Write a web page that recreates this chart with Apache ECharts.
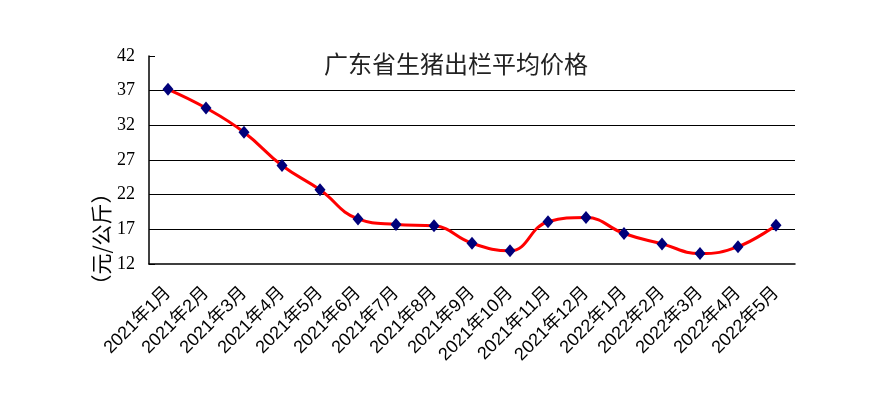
<!DOCTYPE html>
<html>
<head>
<meta charset="utf-8">
<script src="https://cdn.jsdelivr.net/npm/echarts@6/dist/echarts.min.js"></script>
<style>
html,body{margin:0;padding:0;background:#fff;}
#c{width:890px;height:397px;}
</style>
</head>
<body>
<div id="c"></div>
<script>
const categories = ['2021年1月','2021年2月','2021年3月','2021年4月','2021年5月','2021年6月','2021年7月','2021年8月','2021年9月','2021年10月','2021年11月','2021年12月','2022年1月','2022年2月','2022年3月','2022年4月','2022年5月'];
const prices = [37.2, 34.5, 31.0, 26.2, 22.7, 18.5, 17.7, 17.5, 15.0, 13.9, 18.1, 18.7, 16.4, 14.9, 13.5, 14.5, 17.6];
const yTicks = [12, 17, 22, 27, 32, 37, 42];
const titleText = '广东省生猪出栏平均价格';
const yName = '（元/公斤）';

const chart = echarts.init(document.getElementById('c'), null, {renderer:'canvas'});
chart.setOption({
  backgroundColor: '#fff',
  animation: false,
  title: {
    text: titleText,
    left: 451, top: 47, textAlign: 'center',
    textStyle: {fontFamily: '"Noto Sans CJK SC", sans-serif', fontSize: 24, fontWeight: 'normal', color: '#222'}
  },
  grid: {left: 149, right: 95, top: 56, bottom: 133},
  xAxis: {
    type: 'category',
    data: categories,
    boundaryGap: true,
    axisLine: {lineStyle: {color: '#000', width: 1.5}},
    axisTick: {inside: true, length: 5, lineStyle: {color: '#000', width: 1}},
    axisLabel: {rotate: 45, interval: 0, margin: 26, color: '#000', fontSize: 18,
      fontFamily: '"Liberation Sans", "Noto Sans CJK SC", sans-serif'},
    splitLine: {show: false}
  },
  yAxis: {
    type: 'value',
    min: yTicks[0], max: yTicks[yTicks.length - 1], interval: 5,
    axisLine: {show: true, lineStyle: {color: '#000', width: 1.5}},
    axisTick: {show: true, inside: true, length: 6, lineStyle: {color: '#000'}},
    axisLabel: {margin: 14, color: '#000', fontSize: 18, fontFamily: '"Liberation Serif", serif'},
    splitLine: {show: true, showMinLine: false, showMaxLine: false, lineStyle: {color: '#000', width: 1}}
  },
  graphic: [{
    type: 'text', x: 101, y: 239, rotation: Math.PI / 2,
    style: {text: yName, fontSize: 21, fontFamily: '"Noto Sans CJK SC", sans-serif', fill: '#000',
      textAlign: 'center', textVerticalAlign: 'middle'}
  }],
  series: [{
    type: 'line',
    data: prices,
    smooth: 0.45,
    symbol: 'diamond',
    symbolSize: [11, 13],
    lineStyle: {color: '#f00', width: 3},
    itemStyle: {color: '#00007a'},
    z: 3
  }]
});
</script>
</body>
</html>
